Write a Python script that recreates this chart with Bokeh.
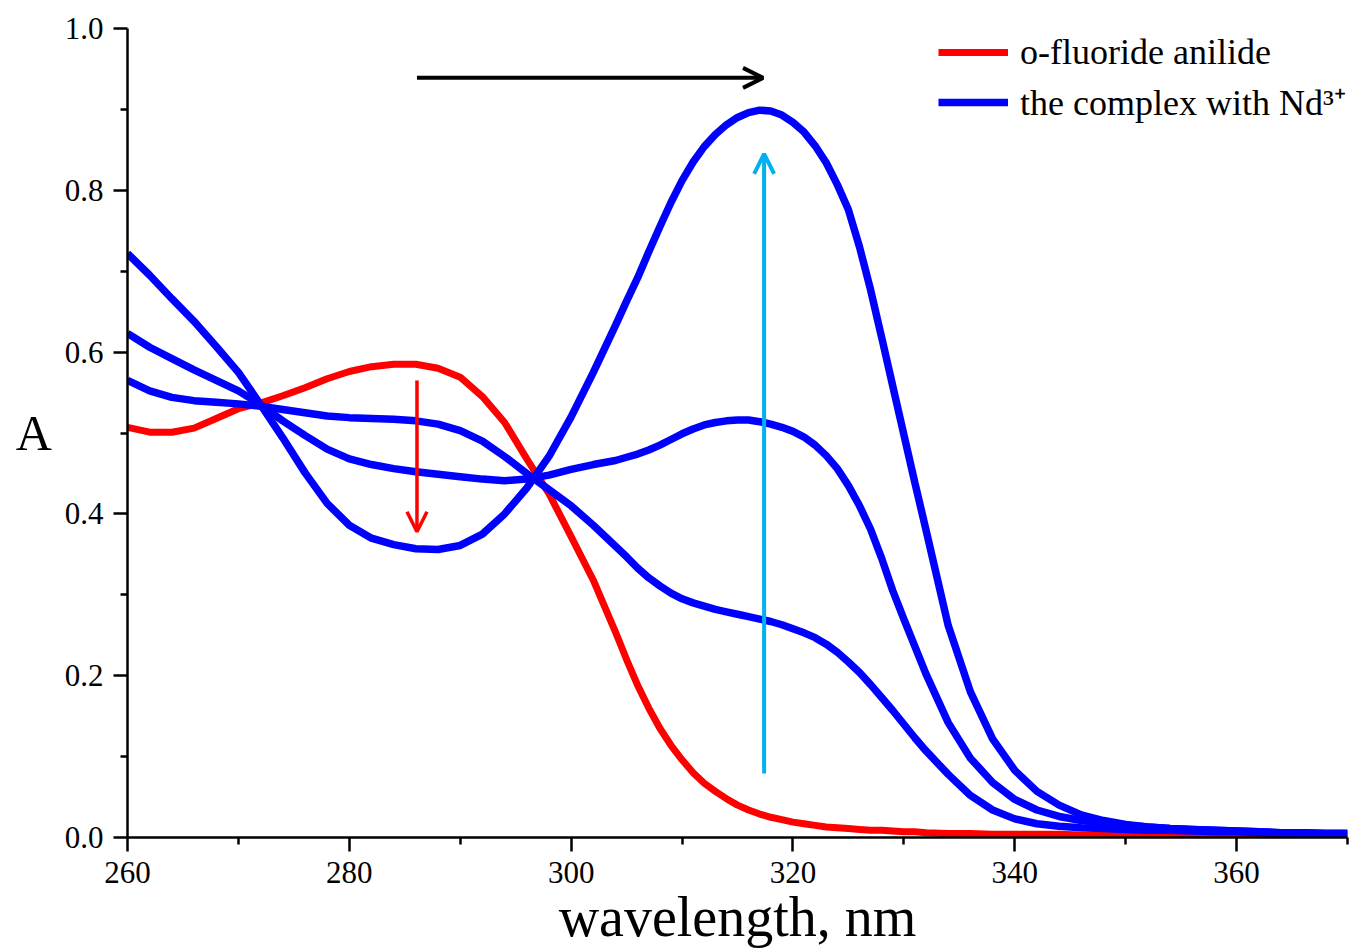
from bokeh.plotting import figure
from bokeh.models import (FixedTicker, PrintfTickFormatter, Range1d, Arrow, OpenHead,
                          Legend, LegendItem)
from bokeh.embed import file_html
from bokeh.resources import INLINE

wavelength = [260, 262, 264, 266, 268, 270, 272, 274, 276, 278, 280, 282, 284, 286, 288,
              290, 292, 294, 296, 298, 300, 302,
              304, 305, 306, 307, 308, 309, 310, 311, 312, 313, 314, 315, 316, 317, 318,
              319, 320, 321, 322, 323, 324, 325, 326, 327, 328, 329, 330, 331, 332,
              334, 336, 338, 340, 342, 344, 346, 348,
              350, 352, 354, 356, 358, 360, 362, 364, 366, 368, 370]

anilide = [0.507, 0.501, 0.501, 0.506, 0.518, 0.530, 0.537, 0.546, 0.556, 0.567, 0.576,
           0.582, 0.585, 0.585, 0.580, 0.569, 0.545, 0.513, 0.468, 0.425, 0.372, 0.318,
           0.254, 0.220, 0.188, 0.160, 0.135, 0.114, 0.096, 0.080, 0.067, 0.057, 0.048,
           0.040, 0.034, 0.029, 0.025, 0.022, 0.019, 0.017, 0.015, 0.013, 0.012, 0.011,
           0.010, 0.009, 0.009, 0.008, 0.007, 0.007, 0.006,
           0.005, 0.005, 0.004, 0.004, 0.004, 0.004, 0.003, 0.003,
           0.003, 0.003, 0.003, 0.003, 0.003, 0.003, 0.003, 0.003, 0.003, 0.003, 0.003]

complex_high = [0.722, 0.695, 0.666, 0.638, 0.607, 0.575, 0.535, 0.494, 0.451, 0.413, 0.386,
                0.370, 0.362, 0.357, 0.356, 0.361, 0.375, 0.400, 0.432, 0.471, 0.520, 0.575,
                0.633, 0.663, 0.692, 0.724, 0.755, 0.785, 0.812, 0.835, 0.854, 0.869, 0.881,
                0.890, 0.896, 0.899, 0.898, 0.893, 0.884, 0.872, 0.855, 0.834, 0.807, 0.776,
                0.730, 0.677, 0.618, 0.558, 0.498, 0.438, 0.380,
                0.262, 0.180, 0.122, 0.083, 0.057, 0.040, 0.028, 0.021,
                0.016, 0.013, 0.011, 0.010, 0.009, 0.008, 0.007, 0.006, 0.006, 0.005, 0.005]

complex_mid = [0.623, 0.606, 0.592, 0.578, 0.565, 0.552, 0.535, 0.515, 0.497, 0.480, 0.468,
               0.461, 0.456, 0.452, 0.449, 0.446, 0.443, 0.441, 0.443, 0.448, 0.455, 0.461,
               0.466, 0.470, 0.474, 0.479, 0.485, 0.492, 0.499, 0.505, 0.510, 0.513, 0.515,
               0.516, 0.516, 0.514, 0.511, 0.507, 0.502, 0.495, 0.485, 0.472, 0.456, 0.435,
               0.410, 0.381, 0.345, 0.305, 0.270, 0.236, 0.202,
               0.142, 0.098, 0.068, 0.047, 0.034, 0.026, 0.021, 0.018,
               0.015, 0.013, 0.011, 0.010, 0.009, 0.008, 0.007, 0.006, 0.006, 0.005, 0.005]

complex_low = [0.565, 0.552, 0.544, 0.540, 0.538, 0.536, 0.533, 0.529, 0.525, 0.521, 0.519,
               0.518, 0.517, 0.515, 0.511, 0.503, 0.490, 0.471, 0.450, 0.430, 0.410, 0.386,
               0.360, 0.347, 0.333, 0.321, 0.311, 0.302, 0.295, 0.290, 0.286, 0.282, 0.279,
               0.276, 0.273, 0.270, 0.267, 0.263, 0.258, 0.253, 0.247, 0.239, 0.229, 0.217,
               0.204, 0.189, 0.173, 0.157, 0.140, 0.123, 0.107,
               0.078, 0.052, 0.034, 0.023, 0.017, 0.014, 0.012, 0.011,
               0.010, 0.009, 0.009, 0.008, 0.007, 0.007, 0.006, 0.006, 0.005, 0.005, 0.005]

x_major = [260, 280, 300, 320, 340, 360]
x_minor = [270, 290, 310, 330, 350, 370]
y_major = [0.0, 0.2, 0.4, 0.6, 0.8, 1.0]
y_minor = [0.1, 0.3, 0.5, 0.7, 0.9]

# annotation arrows (data units): x_start, y_start, x_end, y_end
shift_arrow = [286.1, 0.939, 317.3, 0.939]
decrease_arrow = [286.1, 0.565, 286.1, 0.378]
increase_arrow = [317.4, 0.079, 317.4, 0.845]

SERIF = "Liberation Serif"
RED = "#FF0000"
BLUE = "#0000FF"
CYAN = "#00B0F0"

p = figure(width=1351, height=950, output_backend="svg", toolbar_location=None,
           x_range=Range1d(260, 370), y_range=Range1d(0, 1.0),
           min_border_left=127, min_border_right=4, min_border_top=28, min_border_bottom=113)
p.outline_line_color = None
p.xgrid.visible = False
p.ygrid.visible = False
p.background_fill_color = "white"

r_red = p.line(wavelength, anilide, line_color=RED, line_width=7)
r_b1 = p.line(wavelength, complex_high, line_color=BLUE, line_width=7.5)
r_b2 = p.line(wavelength, complex_mid, line_color=BLUE, line_width=7.5)
r_b3 = p.line(wavelength, complex_low, line_color=BLUE, line_width=7.5)

for ax in (p.xaxis[0], p.yaxis[0]):
    ax.axis_line_width = 2.5
    ax.axis_line_color = "black"
    ax.major_tick_line_width = 2.5
    ax.minor_tick_line_width = 2.5
    ax.major_tick_line_color = "black"
    ax.minor_tick_line_color = "black"
    ax.major_tick_in = 0
    ax.minor_tick_in = 0
    ax.major_tick_out = 14
    ax.minor_tick_out = 7
    ax.major_label_text_font = SERIF
    ax.major_label_text_font_size = "31px"
    ax.major_label_text_color = "black"

p.xaxis.ticker = FixedTicker(ticks=x_major, minor_ticks=x_minor)
p.yaxis.ticker = FixedTicker(ticks=y_major, minor_ticks=y_minor)
p.yaxis.formatter = PrintfTickFormatter(format="%.1f")
p.xaxis.major_label_standoff = 10
p.yaxis.major_label_standoff = 10

p.yaxis.axis_label = "A"
p.yaxis.axis_label_orientation = "horizontal"
p.yaxis.axis_label_text_font = SERIF
p.yaxis.axis_label_text_font_size = "50px"
p.yaxis.axis_label_text_font_style = "normal"
p.yaxis.axis_label_text_color = "black"
p.yaxis.axis_label_standoff = 10

p.xaxis.axis_label = "wavelength, nm"
p.xaxis.axis_label_text_font = SERIF
p.xaxis.axis_label_text_font_size = "56px"
p.xaxis.axis_label_text_font_style = "normal"
p.xaxis.axis_label_text_color = "black"
p.xaxis.axis_label_standoff = 0

for arr, color, lw in ((shift_arrow, "black", 4), (decrease_arrow, RED, 3.5),
                       (increase_arrow, CYAN, 4)):
    p.add_layout(Arrow(x_start=arr[0], y_start=arr[1], x_end=arr[2], y_end=arr[3],
                       line_color=color, line_width=lw,
                       end=OpenHead(size=20, line_color=color, line_width=lw)))

legend = Legend(items=[LegendItem(label="o-fluoride anilide", renderers=[r_red]),
                       LegendItem(label="the complex with Nd\u00b3\u207a", renderers=[r_b1])],
                location=(811, 711))
legend.border_line_color = None
legend.background_fill_alpha = 0
legend.padding = 0
legend.margin = 0
legend.spacing = 4
legend.glyph_width = 70
legend.glyph_height = 40
legend.label_height = 40
legend.label_standoff = 12
legend.label_text_font = SERIF
legend.label_text_font_size = "36px"
legend.label_text_color = "black"
p.add_layout(legend)

open("out.html", "w").write(file_html(p, INLINE))
